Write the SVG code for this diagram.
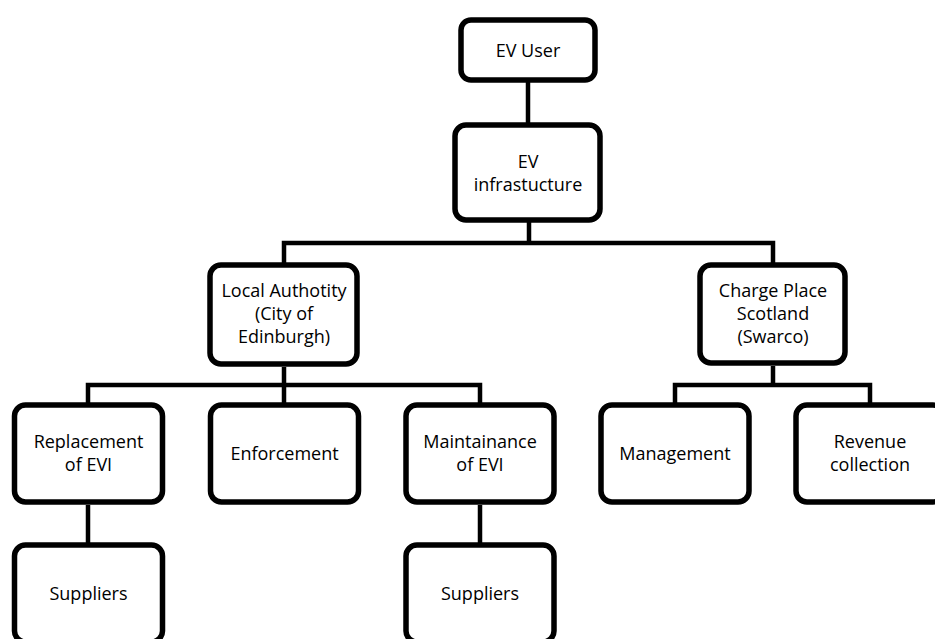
<svg xmlns="http://www.w3.org/2000/svg" width="935" height="639" viewBox="0 0 935 639">
<style>
.box{fill:#fff;stroke:#000;stroke-width:5.5}
.c{fill:none;stroke:#000;stroke-width:4.5;stroke-linejoin:miter;stroke-linecap:butt}
text{font-family:"Open Sans","Noto Sans",sans-serif;font-size:18px;fill:#000;text-anchor:middle}
</style>
<rect width="935" height="639" fill="#fff"/>
<g id="connectors">
<path class="c" d="M528 80V125"/>
<path class="c" d="M529 220V243M284 265V243H773V265"/>
<path class="c" d="M284 367V405M88 405V385H480V405"/>
<path class="c" d="M773 366V385M675 405V385H870V405"/>
<path class="c" d="M88 505V545M480 505V545"/>
</g>
<g id="ev-user"><rect class="box" x="461" y="20" width="134" height="60" rx="10"/><text x="528" y="57">EV User</text></g>
<g id="ev-infra"><rect class="box" x="455" y="125" width="145" height="95" rx="11"/><text x="528" y="168">EV</text><text x="528" y="191">infrastucture</text></g>
<g id="local-authority"><rect class="box" x="210" y="265" width="147" height="99" rx="11"/><text x="284" y="297">Local Authotity</text><text x="284" y="320">(City of</text><text x="284" y="343">Edinburgh)</text></g>
<g id="charge-place"><rect class="box" x="700" y="265" width="145" height="98" rx="11"/><text x="773" y="297">Charge Place</text><text x="773" y="320">Scotland</text><text x="773" y="343">(Swarco)</text></g>
<g id="replacement"><rect class="box" x="14.5" y="405" width="148" height="97" rx="11"/><text x="88.5" y="448">Replacement</text><text x="88.5" y="471">of EVI</text></g>
<g id="enforcement"><rect class="box" x="210.5" y="405" width="148" height="97" rx="11"/><text x="284.5" y="460">Enforcement</text></g>
<g id="maintainance"><rect class="box" x="406" y="405" width="148" height="97" rx="11"/><text x="480" y="448">Maintainance</text><text x="480" y="471">of EVI</text></g>
<g id="management"><rect class="box" x="601" y="405" width="148" height="97" rx="11"/><text x="675" y="460">Management</text></g>
<g id="revenue"><rect class="box" x="796" y="405" width="148" height="97" rx="11"/><text x="870" y="448">Revenue</text><text x="870" y="471">collection</text></g>
<g id="suppliers-1"><rect class="box" x="14.5" y="545" width="148" height="97" rx="11"/><text x="88.5" y="600">Suppliers</text></g>
<g id="suppliers-2"><rect class="box" x="406" y="545" width="148" height="97" rx="11"/><text x="480" y="600">Suppliers</text></g>
</svg>
